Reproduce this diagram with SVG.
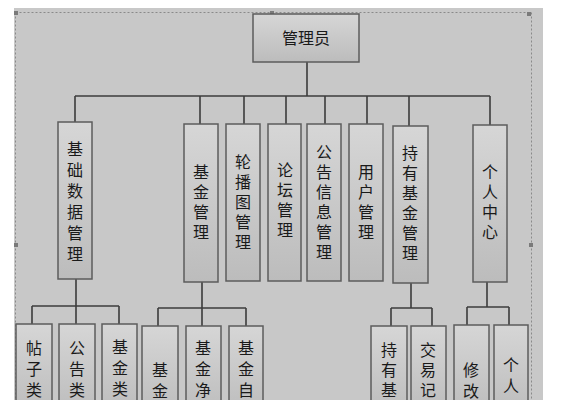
<svg xmlns="http://www.w3.org/2000/svg" width="575" height="400" viewBox="0 0 575 400">
<defs>
<linearGradient id="g" x1="0" y1="0" x2="0" y2="1">
<stop offset="0" stop-color="#d6d6d6"/>
<stop offset="1" stop-color="#bcbcbc"/>
</linearGradient>
<style>
.b{fill:url(#g);stroke:#5c5c5c;stroke-width:1.5}
.t{font-family:"Noto Sans CJK SC","Noto Sans",sans-serif;font-size:16px;fill:#1a1a1a;text-anchor:middle}
.v{font-family:"Noto Sans CJK SC","Noto Sans",sans-serif;font-size:16px;fill:#1a1a1a;writing-mode:vertical-rl;text-anchor:start;letter-spacing:4px}
.w{letter-spacing:5px}
.z{letter-spacing:0}
.c{fill:none;stroke:#3c3c3c;stroke-width:1.6}
.h{fill:#7a7a7a}
</style>
</defs>
<rect x="0" y="0" width="575" height="400" fill="#ffffff"/>
<rect x="14" y="8" width="529" height="392" fill="#c8c8c8"/>
<path d="M15.5 12.5 H531.5 M15.5 12.5 V400 M531.5 12.5 V400" fill="none" stroke="#8a8a8a" stroke-width="1" stroke-dasharray="2,2"/>
<rect class="h" x="14" y="11" width="4" height="4"/>
<rect class="h" x="270" y="11" width="4" height="4"/>
<rect class="h" x="527" y="12" width="4" height="4"/>
<rect class="h" x="14" y="243" width="4" height="4"/>
<rect class="h" x="529" y="243" width="4" height="4"/>

<g id="connectors">
<path class="c" d="M307 62 V96 M75 96 H490 M75 96 V122 M200 96 V124 M244 96 V124 M286 96 V124 M325 96 V124 M367 96 V124 M409 96 V126 M490 96 V125"/>
<path class="c" d="M76 279 V306 M32 306 H119 M32 306 V324 M76 306 V324 M119 306 V324"/>
<path class="c" d="M202 282 V308 M158 308 H246 M158 308 V326 M202 308 V326 M246 308 V326"/>
<path class="c" d="M411 283 V308 M391 308 H432 M391 308 V326 M432 308 V326"/>
<path class="c" d="M487 282 V307 M467 307 H509 M467 307 V325 M509 307 V325"/>
</g>

<g id="n0"><rect class="b" x="253" y="14" width="106" height="48"/><text class="t" x="306" y="44" font-size="17">管理员</text></g>

<g id="n1"><rect class="b" x="58" y="122" width="34" height="157"/><text class="v w" x="75" y="141">基础数据管理</text></g>
<g id="n2"><rect class="b" x="184" y="124" width="34" height="158"/><text class="v" x="201" y="164">基金管理</text></g>
<g id="n3"><rect class="b" x="226" y="124" width="34" height="157"/><text class="v" x="243" y="154">轮播图管理</text></g>
<g id="n4"><rect class="b" x="268" y="124" width="33" height="157"/><text class="v" x="285" y="162">论坛管理</text></g>
<g id="n5"><rect class="b" x="307" y="124" width="34" height="157"/><text class="v" x="324" y="144">公告信息管理</text></g>
<g id="n6"><rect class="b" x="349" y="124" width="34" height="157"/><text class="v" x="366" y="164">用户管理</text></g>
<g id="n7"><rect class="b" x="393" y="126" width="35" height="157"/><text class="v" x="410" y="145">持有基金管理</text></g>
<g id="n8"><rect class="b" x="473" y="125" width="34" height="157"/><text class="v" x="490" y="164">个人中心</text></g>

<g id="n9"><rect class="b" x="16" y="324" width="36" height="90"/><text class="v w" x="34" y="340">帖子<tspan class="z">类</tspan></text></g>
<g id="n10"><rect class="b" x="59" y="324" width="36" height="90"/><text class="v w" x="77" y="340">公告<tspan class="z">类</tspan></text></g>
<g id="n11"><rect class="b" x="102" y="324" width="35" height="90"/><text class="v w" x="120" y="339">基金<tspan class="z">类</tspan></text></g>
<g id="n12"><rect class="b" x="142" y="326" width="36" height="90"/><text class="v w" x="160" y="362">基<tspan class="z">金</tspan></text></g>
<g id="n13"><rect class="b" x="186" y="326" width="35" height="90"/><text class="v w" x="203" y="340">基金<tspan class="z">净</tspan></text></g>
<g id="n14"><rect class="b" x="229" y="326" width="34" height="90"/><text class="v w" x="246" y="340">基金<tspan class="z">自</tspan></text></g>
<g id="n15"><rect class="b" x="371" y="326" width="36" height="90"/><text class="v" x="389" y="342">持有<tspan class="z">基</tspan></text></g>
<g id="n16"><rect class="b" x="411" y="326" width="35" height="90"/><text class="v" x="428" y="342">交易<tspan class="z">记</tspan></text></g>
<g id="n17"><rect class="b" x="454" y="325" width="35" height="90"/><text class="v w" x="471" y="362">修<tspan class="z">改</tspan></text></g>
<g id="n18"><rect class="b" x="494" y="325" width="34" height="90"/><text class="v w" x="511" y="357">个<tspan class="z">人</tspan></text></g>
</svg>
